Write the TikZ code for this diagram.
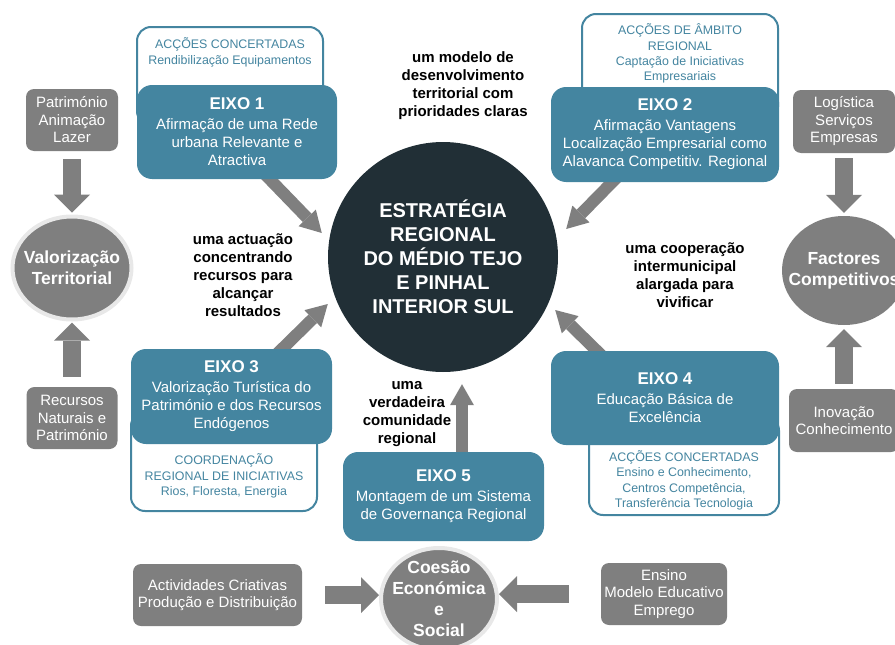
\documentclass[tikz,border=0pt]{standalone}
\usepackage{fontspec}
\setmainfont{Liberation Sans}
\usetikzlibrary{arrows.meta}
\usetikzlibrary{shapes}
\usetikzlibrary{backgrounds}

\definecolor{eixoblue}{RGB}{68,133,160}
\definecolor{boxgray}{RGB}{127,127,127}
\definecolor{ringgray}{RGB}{232,232,232}
\definecolor{coredark}{RGB}{33,47,54}

\begin{document}
\begin{tikzpicture}[x=1pt, y=-1pt,
  every node/.style={align=center, inner sep=0pt},
  eixo/.style={rectangle, rounded corners=15pt, fill=eixoblue, text=white, font=\fontsize{15}{18}\selectfont},
  accframe/.style={rectangle, rounded corners=14pt, draw=eixoblue, line width=2pt, fill=white, text=eixoblue, font=\fontsize{12.4}{15.3}\selectfont},
  graybox/.style={rectangle, rounded corners=8pt, fill=boxgray, text=white, font=\fontsize{15}{17.5}\selectfont},
  goal/.style={ellipse, fill=boxgray, text=white, inner xsep=-30pt, inner ysep=-15pt, font=\bfseries\fontsize{17.5}{21}\selectfont},
  motto/.style={font=\bfseries\fontsize{15}{18}\selectfont},
  side arrow/.style={draw=boxgray, line width=18pt, -{Triangle[length=18pt,width=36pt,line width=0pt]}},
  axis arrow/.style={draw=boxgray, line width=12pt, -{Triangle[length=21pt,width=24pt,line width=0pt]}}]
	\useasboundingbox (0,0) rectangle (895,645);
	%Core
	\node [circle, fill=coredark, text=white, minimum size=230pt, font=\bfseries\fontsize{20}{24}\selectfont] (estrategia) at (443,257) {ESTRATÉGIA\\REGIONAL\\DO MÉDIO TEJO\\E PINHAL\\INTERIOR SUL};
	%Concerted actions
	\node [accframe, anchor=north, inner xsep=4pt, inner ysep=11pt, minimum width=186pt] (acc1) at (230,26) {ACÇÕES CONCERTADAS\\Rendibilização Equipamentos\rule[-50pt]{0pt}{0pt}};
	\node [accframe, anchor=north, inner xsep=4pt, inner ysep=10pt, minimum width=196pt] (acc2) at (680,13) {ACÇÕES DE ÂMBITO\\REGIONAL\\Captação de Iniciativas\\Empresariais\rule[-30pt]{0pt}{0pt}};
	\node [accframe, anchor=south, inner xsep=4pt, inner ysep=13pt, minimum width=186pt] (acc3) at (224,512) {\rule{0pt}{40pt}COORDENAÇÃO\\REGIONAL DE INICIATIVAS\\Rios, Floresta, Energia};
	\node [accframe, anchor=south, inner xsep=4pt, inner ysep=5pt, minimum width=190pt] (acc4) at (684,516) {\rule{0pt}{40pt}ACÇÕES CONCERTADAS\\Ensino e Conhecimento,\\Centros Competência,\\Transferência Tecnologia};
	%Eixos
	\node [eixo, minimum width=200pt, minimum height=94pt] (eixo1) at (237,132) {{\bfseries\fontsize{17}{20}\selectfont EIXO 1}\\[2pt]Afirmação de uma Rede\\urbana Relevante e\\Atractiva};
	\node [eixo, minimum width=228pt, minimum height=95pt] (eixo2) at (665,134.5) {{\bfseries\fontsize{17}{20}\selectfont EIXO 2}\\[2pt]Afirmação Vantagens\\Localização Empresarial como\\Alavanca Competitiv. Regional};
	\node [eixo, minimum width=201pt, minimum height=95pt] (eixo3) at (231.5,396.5) {{\bfseries\fontsize{17}{20}\selectfont EIXO 3}\\[2pt]Valorização Turística do\\Património e dos Recursos\\Endógenos};
	\node [eixo, minimum width=228pt, minimum height=94pt] (eixo4) at (665,398) {{\bfseries\fontsize{17}{20}\selectfont EIXO 4}\\[2pt]Educação Básica de\\Excelência};
	\node [eixo, minimum width=201pt, minimum height=89pt] (eixo5) at (443.5,496.5) {{\bfseries\fontsize{17}{20}\selectfont EIXO 5}\\[2pt]Montagem de um Sistema\\de Governança Regional};
	%Goals
	\node [goal, draw=ringgray, line width=4pt, minimum width=119pt, minimum height=103pt] (valorizacao) at (72,268) {Valorização\\Territorial};
	\node [goal, minimum width=124pt, minimum height=109pt] (factores) at (844,270.5) {Factores\\Competitivos};
	\node [goal, draw=ringgray, line width=4pt, minimum width=116pt, minimum height=102pt] (coesao) at (439,599) {Coesão\\Económica\\e\\Social};
	%Resources
	\node [graybox, minimum width=92pt, minimum height=62pt] (patrimonio) at (72,120) {Património\\Animação\\Lazer};
	\node [graybox, minimum width=91pt, minimum height=62pt] (recursos) at (72,418) {Recursos\\Naturais e\\Património};
	\node [graybox, minimum width=102pt, minimum height=63pt] (logistica) at (844,121.5) {Logística\\Serviços\\Empresas};
	\node [graybox, minimum width=110pt, minimum height=63pt] (inovacao) at (844,420.5) {Inovação\\Conhecimento};
	\node [graybox, minimum width=169pt, minimum height=62pt] (actividades) at (217.5,595) {Actividades Criativas\\Produção e Distribuição};
	\node [graybox, minimum width=126pt, minimum height=62pt] (ensino) at (664,594) {Ensino\\Modelo Educativo\\Emprego};
	%Mottos
	\node [motto] (modelo) at (463,86) {um modelo de\\desenvolvimento\\territorial com\\prioridades claras};
	\node [motto] (actuacao) at (243,275) {uma actuação\\concentrando\\recursos para\\alcançar\\resultados};
	\node [motto] (cooperacao) at (685,275) {uma cooperação\\intermunicipal\\alargada para\\vivificar};
	\node [motto] (comunidade) at (407,414) {uma\\verdadeira\\comunidade\\regional};
	%Arrows
	\begin{scope}[on background layer]
	\draw[axis arrow] ([shift={(25,-8)}]eixo1.south) -- ([shift={(-6,-24)}]estrategia.west);
	\draw[axis arrow] ([shift={(-45,-8)}]eixo2.south) -- ([shift={(8,-28)}]estrategia.east);
	\draw[axis arrow] ([shift={(42.5,8)}]eixo3.north) -- ([shift={(0,47)}]estrategia.west);
	\draw[axis arrow] ([shift={(-60,8)}]eixo4.north) -- ([shift={(-3,53)}]estrategia.east);
	\draw[axis arrow] ([shift={(18.5,5)}]eixo5.north) -- ([shift={(19,12)}]estrategia.south);
	\draw[side arrow, shorten <=8pt, shorten >=2pt] (patrimonio) -- (valorizacao);
	\draw[side arrow, shorten <=10pt, shorten >=1pt] (recursos) -- (valorizacao);
	\draw[side arrow, shorten <=5pt, shorten >=3pt] (logistica) -- (factores);
	\draw[side arrow, shorten <=5pt, shorten >=4pt] (inovacao) -- (factores);
	\draw[side arrow] ([xshift=23pt]actividades.east) -- (coesao.west |- actividades.east);
	\draw[side arrow] ([xshift=-32pt]ensino.west) -- (coesao.east |- ensino.west);
	\end{scope}
\end{tikzpicture}
\end{document}
